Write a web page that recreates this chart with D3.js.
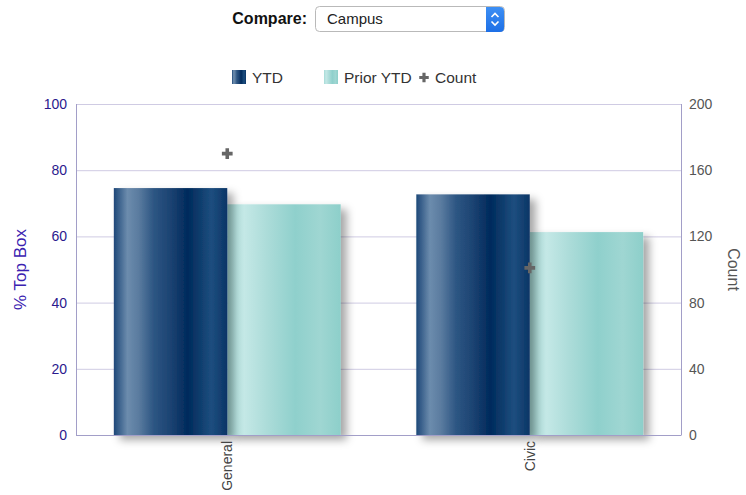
<!DOCTYPE html>
<html>
<head>
<meta charset="utf-8">
<script src="https://cdn.jsdelivr.net/npm/d3@7"></script>
<style>
  body { margin: 0; background: #fff; font-family: "Liberation Sans", Arial, sans-serif; }
  .grid line { stroke: #cfcbe3; }
  .grid path { display: none; }
</style>
</head>
<body>
<svg id="chart" width="746" height="495"></svg>
<script>
// data
const categories = ["General", "Civic"];
const ytd = [74.6, 72.7];
const priorYtd = [69.7, 61.3];
const counts = [170, 101];
const leftTicks = [0, 20, 40, 60, 80, 100];
const rightTicks = [0, 40, 80, 120, 160, 200];

const width = 746, height = 495;
let padding = {top: 104, right: 65, bottom: 60, left: 76};

const svg = d3.select("#chart");
const defs = svg.append("defs");

// bar gradients
function addGradient(id, stops) {
  const g = defs.append("linearGradient").attr("id", id)
    .attr("x1", "0%").attr("x2", "100%").attr("y1", "0%").attr("y2", "0%");
  stops.forEach(s => g.append("stop").attr("offset", s[0]).attr("stop-color", s[1]));
}
addGradient("gYtd", [
  ["0%", "#1d4778"], ["12%", "#6c8cad"], ["22%", "#5a7b9f"], ["35%", "#2d5683"],
  ["50%", "#1c4372"], ["65%", "#002a5c"], ["75%", "#0d3b6b"], ["86%", "#1d4e7f"], ["100%", "#0b3566"]
]);
addGradient("gPrior", [
  ["0%", "#a6dbd7"], ["15%", "#c4e8e6"], ["35%", "#acdcd9"], ["60%", "#8fd0cc"],
  ["82%", "#9fd6d2"], ["100%", "#8dcfca"]
]);

const shadow = defs.append("filter").attr("id", "shadow")
  .attr("x", "-10%").attr("y", "-10%").attr("width", "130%").attr("height", "130%");
shadow.append("feDropShadow").attr("dx", 6).attr("dy", 5).attr("stdDeviation", 4)
  .attr("flood-color", "#000").attr("flood-opacity", 0.35);

// stepper gradient for the select control
addGradient("gStep", [["0%", "#3d8ff4"], ["100%", "#1d6fe6"]]);
defs.select("#gStep").attr("x2", "0%").attr("y2", "100%");

// ---------- Compare control ----------
svg.append("text")
  .attr("x", 307).attr("y", 24)
  .attr("text-anchor", "end")
  .style("font-weight", "bold").style("font-size", "16px").style("fill", "#111")
  .text("Compare:");

svg.append("rect")
  .attr("x", 315.5).attr("y", 6.5).attr("width", 189).attr("height", 25).attr("rx", 4)
  .style("fill", "#fff").style("stroke", "#b9b9b9");
svg.append("path")
  .attr("d", "M486,7 h14 a4,4 0 0 1 4,4 v17 a4,4 0 0 1 -4,4 h-14 z")
  .style("fill", "url(#gStep)");
svg.append("path")
  .attr("d", "M491.5,17 l3.5,-3.5 l3.5,3.5 M491.5,21.5 l3.5,3.5 l3.5,-3.5")
  .style("fill", "none").style("stroke", "#fff").style("stroke-width", 1.6);
svg.append("text")
  .attr("x", 327).attr("y", 24)
  .style("font-size", "15px").style("fill", "#222")
  .text("Campus");

// ---------- scales ----------
let x0 = d3.scaleBand()
  .domain(categories)
  .range([padding.left, width - padding.right])
  .paddingInner(0.25)
  .paddingOuter(0.125);

let x1 = d3.scaleBand()
  .domain(["ytd", "prior"])
  .range([0, x0.bandwidth()]);

let y = d3.scaleLinear().domain([0, 100]).range([height - padding.bottom, padding.top]);
let y2 = d3.scaleLinear().domain([0, 200]).range([height - padding.bottom, padding.top]);

// gridlines
svg.append("g")
  .attr("class", "grid")
  .attr("transform", "translate(" + padding.left + ",0)")
  .call(d3.axisLeft(y).tickValues(leftTicks.slice(1))
    .tickSize(-(width - padding.left - padding.right)).tickFormat(""));

// bars
const rows = categories.map((c, i) => ({cat: c, vals: [
  {key: "ytd", v: ytd[i]}, {key: "prior", v: priorYtd[i]}
]}));

const groups = svg.selectAll(".grp")
  .data(rows)
  .join("g")
  .attr("class", "grp")
  .attr("transform", d => "translate(" + x0(d.cat) + ",0)");

// draw prior first so the ytd shadow falls on it
groups.selectAll("rect")
  .data(d => d.vals.slice().reverse())
  .join("rect")
  .attr("x", d => x1(d.key))
  .attr("y", d => y(d.v))
  .attr("width", x1.bandwidth())
  .attr("height", d => y(0) - y(d.v))
  .attr("fill", d => d.key == "ytd" ? "url(#gYtd)" : "url(#gPrior)")
  .attr("filter", "url(#shadow)");

// axes lines
svg.append("line")
  .attr("x1", padding.left + 0.5).attr("x2", padding.left + 0.5)
  .attr("y1", padding.top).attr("y2", y(0))
  .style("stroke", "#a29ec8");
svg.append("line")
  .attr("x1", width - padding.right + 0.5).attr("x2", width - padding.right + 0.5)
  .attr("y1", padding.top).attr("y2", y(0))
  .style("stroke", "#a29ec8");
svg.append("line")
  .attr("x1", padding.left).attr("x2", width - padding.right + 0.5)
  .attr("y1", y(0) + 0.5).attr("y2", y(0) + 0.5)
  .style("stroke", "#a29ec8");

// left tick labels
svg.selectAll(".ltick")
  .data(leftTicks)
  .join("text")
  .attr("class", "ltick")
  .attr("x", padding.left - 9)
  .attr("y", d => y(d) + 5)
  .attr("text-anchor", "end")
  .style("font-size", "14px").style("fill", "#2b1a8e")
  .text(d => d);

// right tick labels
svg.selectAll(".rtick")
  .data(rightTicks)
  .join("text")
  .attr("class", "rtick")
  .attr("x", width - padding.right + 8)
  .attr("y", d => y2(d) + 5)
  .style("font-size", "14px").style("fill", "#555")
  .text(d => d);

// category labels
svg.selectAll(".cat")
  .data(categories)
  .join("text")
  .attr("class", "cat")
  .attr("transform", d => "translate(" + (x0(d) + x0.bandwidth() / 2 + 5) + "," + (y(0) + 6) + ") rotate(-90)")
  .attr("text-anchor", "end")
  .style("font-size", "14px").style("fill", "#444")
  .text(d => d);

// count markers
const cross = d3.symbol().type(d3.symbolCross).size(64);
svg.selectAll(".cnt")
  .data(categories)
  .join("path")
  .attr("class", "cnt")
  .attr("transform", (d, i) => "translate(" + (x0(d) + x0.bandwidth() / 2) + "," + y2(counts[i]) + ")")
  .attr("d", cross)
  .style("fill", "#666");

// axis titles
svg.append("text")
  .attr("transform", "translate(26," + ((padding.top + y(0)) / 2) + ") rotate(-90)")
  .attr("text-anchor", "middle")
  .style("font-size", "17px").style("fill", "#3a22b0")
  .text("% Top Box");

svg.append("text")
  .attr("transform", "translate(728," + ((padding.top + y(0)) / 2) + ") rotate(90)")
  .attr("text-anchor", "middle")
  .style("font-size", "16px").style("fill", "#555")
  .text("Count");

// ---------- legend ----------
const legend = svg.append("g");
legend.append("rect").attr("x", 232).attr("y", 70).attr("width", 14).attr("height", 14)
  .attr("fill", "url(#gYtd)");
legend.append("text").attr("x", 252).attr("y", 83)
  .style("font-size", "15.5px").style("fill", "#333").text("YTD");
legend.append("rect").attr("x", 324).attr("y", 70).attr("width", 14).attr("height", 14)
  .attr("fill", "url(#gPrior)");
legend.append("text").attr("x", 344).attr("y", 83)
  .style("font-size", "15.5px").style("fill", "#333").text("Prior YTD");
legend.append("path")
  .attr("transform", "translate(424,77.5)")
  .attr("d", d3.symbol().type(d3.symbolCross).size(50))
  .style("fill", "#666");
legend.append("text").attr("x", 435).attr("y", 83)
  .style("font-size", "15.5px").style("fill", "#333").text("Count");
</script>
</body>
</html>
